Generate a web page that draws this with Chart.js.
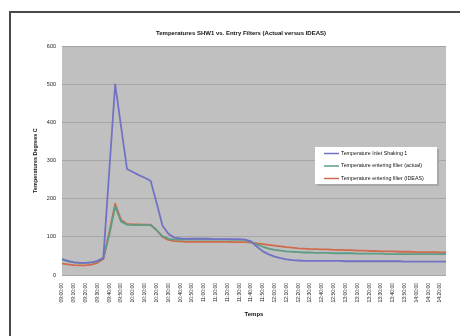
<!DOCTYPE html>
<html>
<head>
<meta charset="utf-8">
<script src="https://cdn.jsdelivr.net/npm/chart.js@4"></script>
<style>
  html, body { margin: 0; padding: 0; background: #fff; }
  #frame { position: absolute; left: 9px; top: 11px; width: 470px; height: 340px;
           border-left: 2px solid #4a4a4a; border-top: 2px solid #4a4a4a; }
  #wrap { position: absolute; left: 0; top: 0; width: 460px; height: 336px; }
</style>
</head>
<body>
<div id="frame"></div>
<div id="wrap"><canvas id="c" width="460" height="336"></canvas></div>
<script>
// Sample times (every 5 minutes)
const times = [
  "09:00:00","09:05:00","09:10:00","09:15:00","09:20:00","09:25:00","09:30:00","09:35:00",
  "09:40:00","09:45:00","09:50:00","09:55:00","10:00:00","10:05:00","10:10:00","10:15:00",
  "10:20:00","10:25:00","10:30:00","10:35:00","10:40:00","10:45:00","10:50:00","10:55:00",
  "11:00:00","11:05:00","11:10:00","11:15:00","11:20:00","11:25:00","11:30:00","11:35:00",
  "11:40:00","11:45:00","11:50:00","11:55:00","12:00:00","12:05:00","12:10:00","12:15:00",
  "12:20:00","12:25:00","12:30:00","12:35:00","12:40:00","12:45:00","12:50:00","12:55:00",
  "13:00:00","13:05:00","13:10:00","13:15:00","13:20:00","13:25:00","13:30:00","13:35:00",
  "13:40:00","13:45:00","13:50:00","13:55:00","14:00:00","14:05:00","14:10:00","14:15:00",
  "14:20:00","14:25:00"
];

// Temperatures in degrees C
const inletShw1 = [
  42,37,33,32,32,33,37,45,272,500,389,278,270,262,255,247,
  190,130,108,98,96,95,95,95,95,95,94,94,94,94,94,93,
  88,74,62,54,48,44,41,39,38,37,37,37,37,37,37,37,
  36,36,36,36,36,36,36,36,36,36,35,35,35,35,35,35,
  35,35
];
const filterActual = [
  40,36,33,32,32,33,36,44,105,180,140,132,131,131,131,131,
  118,102,95,93,93,93,93,93,93,93,93,93,93,92,92,92,
  86,80,74,69,66,64,62,61,60,59,59,58,58,58,57,57,
  57,57,56,56,56,56,56,55,55,55,55,55,55,55,55,55,
  55,55
];
const filterIdeas = [
  30,28,26,25,25,27,32,42,112,187,145,134,133,133,132,132,
  118,100,92,89,88,87,87,87,87,87,87,87,87,86,86,86,
  85,83,81,79,77,75,73,72,70,69,68,68,67,67,66,66,
  65,65,64,64,63,63,62,62,62,61,61,61,60,60,60,60,
  59,59
];

const yTicks = [0, 100, 200, 300, 400, 500, 600];

const FONT = "'Liberation Sans', Arial, sans-serif";

// Grey plotting area
const plotBackground = {
  id: 'plotBackground',
  beforeDraw(chart) {
    const { ctx, chartArea: a } = chart;
    ctx.save();
    ctx.fillStyle = '#c0c0c0';
    ctx.fillRect(a.left, a.top, a.right - a.left, a.bottom - a.top);
    ctx.restore();
  }
};

// Boxed legend placed inside the plotting area
const boxLegend = {
  id: 'boxLegend',
  afterDatasetsDraw(chart) {
    const { ctx } = chart;
    const x = 315, y = 147, w = 122, h = 37;
    ctx.save();
    ctx.fillStyle = '#a8a8a8';
    ctx.fillRect(x + 2, y + 2, w, h);
    ctx.fillStyle = '#ffffff';
    ctx.fillRect(x, y, w, h);
    ctx.font = '5.3px ' + FONT;
    ctx.textBaseline = 'middle';
    chart.data.datasets.forEach((ds, i) => {
      const ry = y + 6.5 + i * 12.5;
      ctx.strokeStyle = ds.borderColor;
      ctx.lineWidth = 1.5;
      ctx.beginPath();
      ctx.moveTo(x + 9, ry);
      ctx.lineTo(x + 24, ry);
      ctx.stroke();
      ctx.fillStyle = '#111';
      ctx.fillText(ds.label, x + 26, ry);
    });
    ctx.restore();
  }
};

const lineStyle = { borderWidth: 1.8, pointRadius: 0, tension: 0, borderJoinStyle: 'round' };

new Chart(document.getElementById('c'), {
  type: 'line',
  data: {
    labels: times,
    datasets: [
      { label: 'Temperature Inlet Shaking 1', data: inletShw1, borderColor: '#7272c4', ...lineStyle },
      { label: 'Temperature entering filter (actual)', data: filterActual, borderColor: '#5f9c86', ...lineStyle },
      { label: 'Temperature entering filter (IDEAS)', data: filterIdeas, borderColor: '#cf6a4c', ...lineStyle }
    ]
  },
  options: {
    responsive: false,
    animation: false,
    layout: { padding: { left: 32, right: 10, top: 30, bottom: 18 } },
    plugins: {
      legend: { display: false },
      tooltip: { enabled: false },
      title: {
        display: true,
        text: 'Temperatures SHW1 vs. Entry Filters (Actual versus IDEAS)',
        color: '#111',
        font: { family: FONT, size: 6, weight: 'bold' },
        padding: { top: 0, bottom: 9 }
      }
    },
    scales: {
      x: {
        type: 'category',
        offset: false,
        grid: { display: false, drawTicks: false },
        border: { display: false },
        ticks: {
          autoSkip: false,
          minRotation: 90,
          maxRotation: 90,
          padding: 8,
          color: '#222',
          font: { family: FONT, size: 5 },
          callback: (v, i) => (i % 2 === 0 ? times[i] : '')
        },
        title: {
          display: true, text: 'Temps', color: '#111',
          font: { family: FONT, size: 6, weight: 'bold' },
          padding: 0
        },
        afterFit(scale) { scale.height = 43; }
      },
      y: {
        min: 0,
        max: 600,
        afterBuildTicks(scale) { scale.ticks = yTicks.map(v => ({ value: v })); },
        grid: { color: '#a6a6a6', lineWidth: 1, drawTicks: false },
        border: { display: false },
        ticks: { padding: 6, color: '#222', font: { family: FONT, size: 5.5 } },
        title: {
          display: true, text: 'Temperatures Degrees C', color: '#111',
          font: { family: FONT, size: 5.5, weight: 'bold' },
          padding: 0
        },
        afterFit(scale) { scale.width = 30; }
      }
    }
  },
  plugins: [plotBackground, boxLegend]
});
</script>
</body>
</html>
